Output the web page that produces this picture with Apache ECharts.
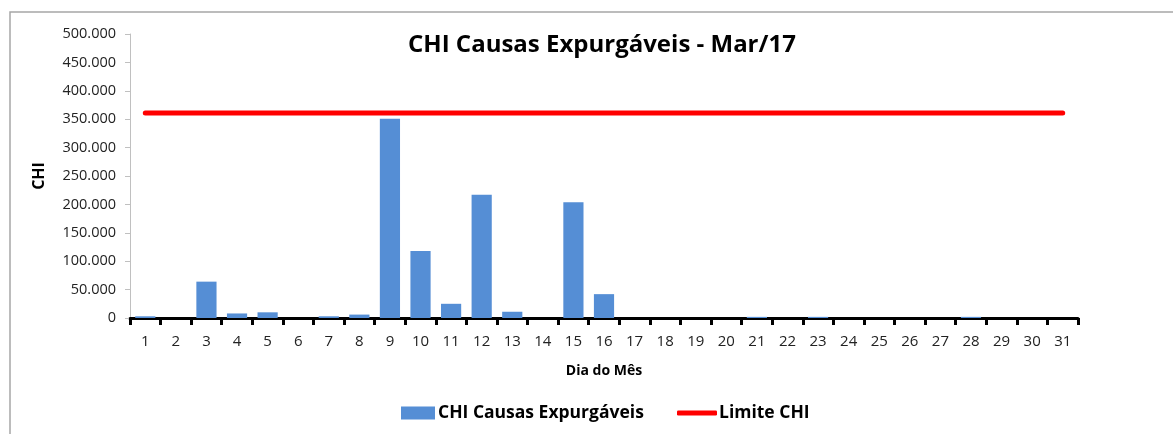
<!DOCTYPE html>
<html>
<head>
<meta charset="utf-8">
<script src="https://cdn.jsdelivr.net/npm/echarts@6/dist/echarts.min.js"></script>
<style>
  html, body { margin: 0; padding: 0; background: #fff; }
  #main { width: 1173px; height: 434px; }
</style>
</head>
<body>
<div id="main"></div>
<script>
// dados
const dias = ['1','2','3','4','5','6','7','8','9','10','11','12','13','14','15','16',
  '17','18','19','20','21','22','23','24','25','26','27','28','29','30','31'];
const chiExpurgaveis = [3000, 0, 64000, 8000, 10000, 0, 3000, 6000, 351000, 118000, 25000,
  217000, 11000, 0, 204000, 42000, 0, 0, 0, 0, 2000, 0, 2000, 0, 0, 0, 0, 2000, 0, 0, 0];
const limiteValor = 361000;
const limiteChi = dias.map(function() { return limiteValor; });

const fonte = '"Open Sans", "Noto Sans", sans-serif';

// formato 500.000
function fmt(v) {
  return String(v).replace(/\B(?=(\d{3})+(?!\d))/g, '.');
}

var chart = echarts.init(document.getElementById('main'));
chart.setOption({
  animation: false,
  backgroundColor: '#fff',
  textStyle: { fontFamily: fonte },
  graphic: [{
    type: 'rect',
    shape: { x: 10, y: 12, width: 1400, height: 600 },
    style: { fill: 'none', stroke: '#a6a6a6', lineWidth: 1.5 },
    silent: true
  }],
  title: {
    text: 'CHI Causas Expurgáveis - Mar/17',
    left: 403,
    top: 28,
    textStyle: { fontFamily: fonte, fontSize: 24, fontWeight: 'bold', color: '#000' }
  },
  legend: [{
    data: ['CHI Causas Expurgáveis'],
    left: 396,
    top: 399,
    icon: 'rect',
    itemWidth: 34,
    itemHeight: 13,
    itemGap: 4,
    textStyle: { fontFamily: fonte, fontSize: 17.5, fontWeight: 'bold', color: '#000', padding: [0, 0, 0, -2] }
  }, {
    data: ['Limite CHI'],
    left: 672,
    top: 399,
    icon: 'roundRect',
    itemWidth: 40,
    itemHeight: 5,
    textStyle: { fontFamily: fonte, fontSize: 17.5, fontWeight: 'bold', color: '#000', padding: [0, 0, 0, -3] }
  }],
  grid: { left: 130, right: 95, top: 34, bottom: 116 },
  xAxis: {
    type: 'category',
    data: dias,
    name: 'Dia do Mês',
    nameLocation: 'middle',
    nameGap: 46,
    nameTextStyle: { fontFamily: fonte, fontSize: 14, fontWeight: 'bold', color: '#000' },
    axisLine: { show: true, lineStyle: { color: '#000', width: 3 } },
    axisTick: { show: true, alignWithLabel: false, interval: 0, length: 7, lineStyle: { color: '#000', width: 3 } },
    axisLabel: { fontFamily: fonte, fontSize: 15, color: '#222', margin: 16 }
  },
  yAxis: {
    type: 'value',
    min: 0,
    max: 500000,
    interval: 50000,
    name: 'CHI',
    nameLocation: 'middle',
    nameGap: 83,
    nameTextStyle: { fontFamily: fonte, fontSize: 16, fontWeight: 'bold', color: '#000' },
    axisLine: { show: true, lineStyle: { color: '#c0c0c0', width: 1 } },
    axisTick: { show: true, length: 5, lineStyle: { color: '#c0c0c0' } },
    splitLine: { show: false },
    axisLabel: { fontFamily: fonte, fontSize: 14.5, color: '#222', margin: 14, formatter: fmt }
  },
  series: [{
    name: 'CHI Causas Expurgáveis',
    type: 'bar',
    data: chiExpurgaveis,
    barCategoryGap: '34%',
    itemStyle: { color: '#558ed5' }
  }, {
    name: 'Limite CHI',
    type: 'line',
    data: limiteChi,
    symbol: 'none',
    itemStyle: { color: '#ff0000' },
    lineStyle: { color: '#ff0000', width: 5, cap: 'round' }
  }]
});

window.addEventListener('resize', function() {
  if (chart) chart.resize();
});
</script>
</body>
</html>
